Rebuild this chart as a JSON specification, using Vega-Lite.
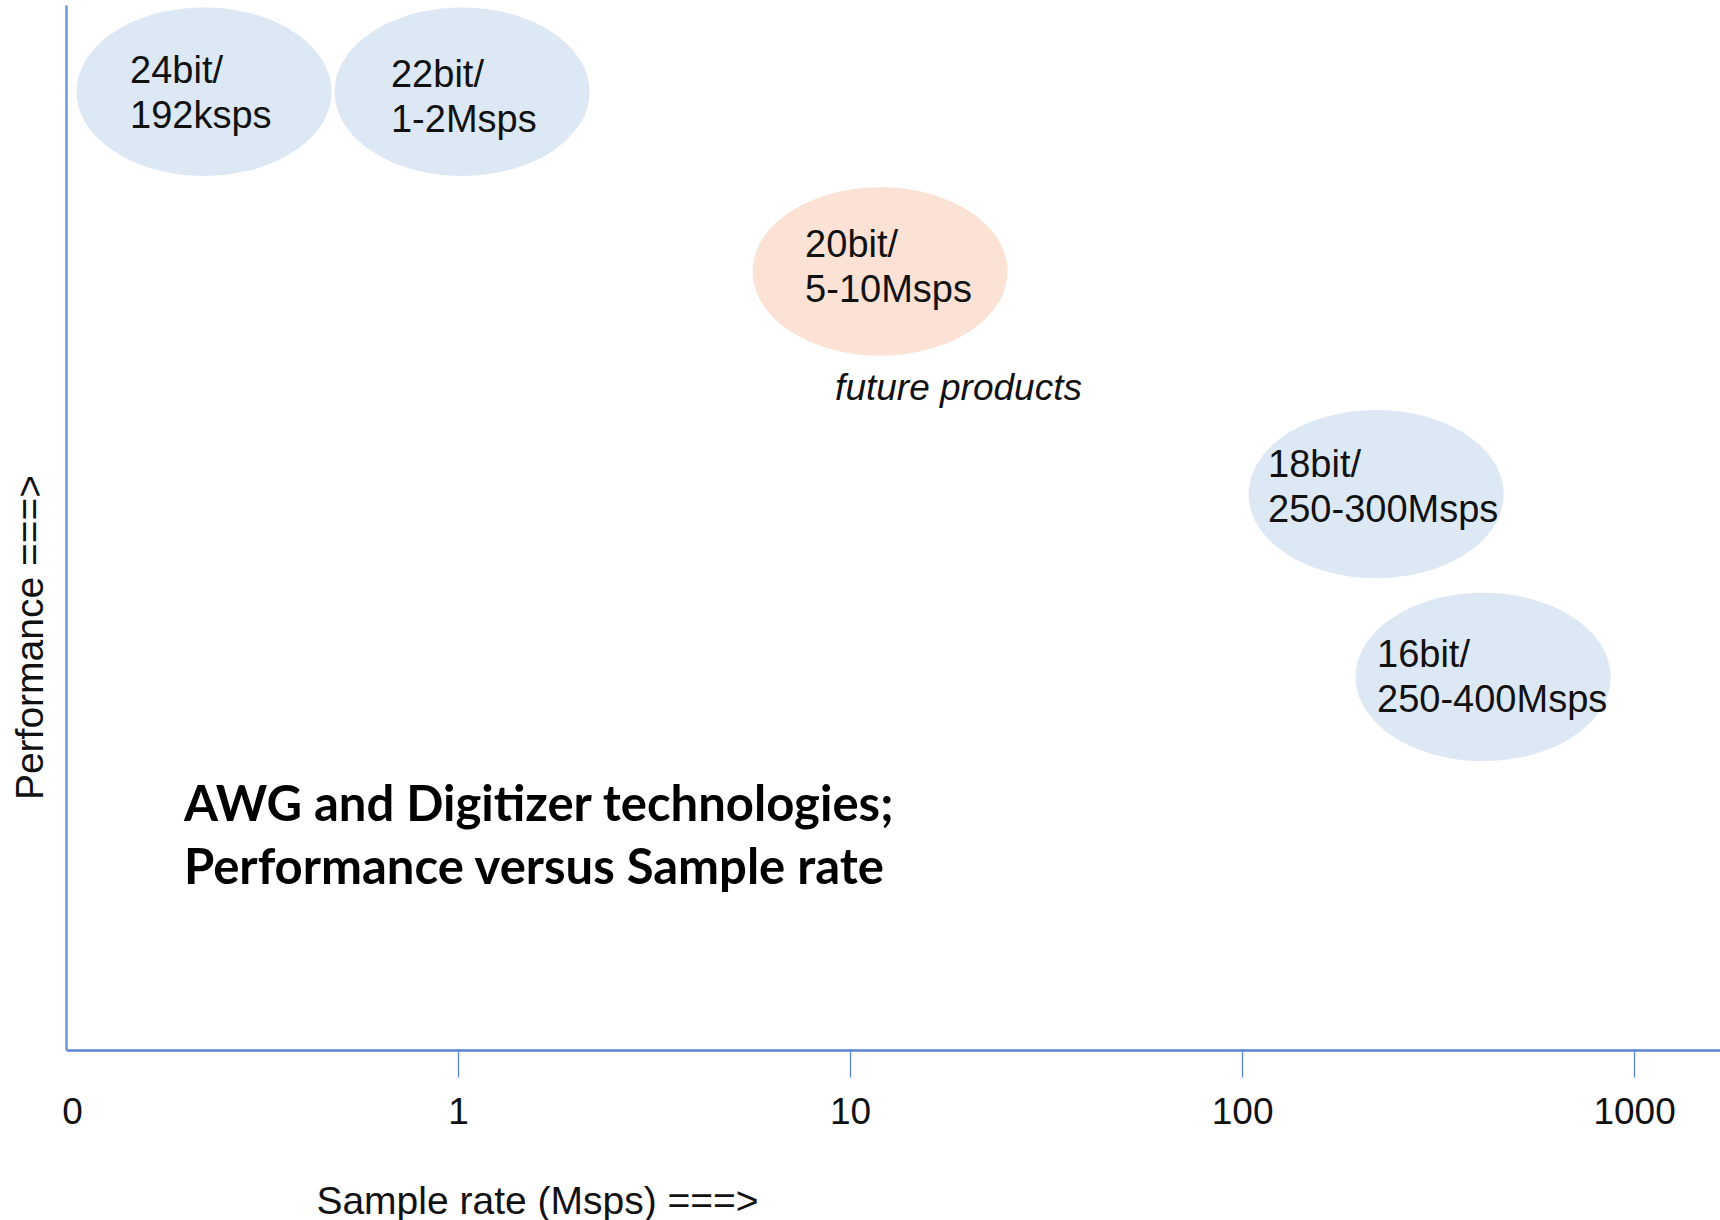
{
  "$schema": "https://vega.github.io/schema/vega-lite/v6.json",
  "width": 1654,
  "height": 1045,
  "autosize": {"type": "none"},
  "padding": {"left": 66, "top": 5, "right": 0, "bottom": 170},
  "background": "white",
  "config": {"view": {"stroke": null}, "axis": {"grid": false}},
  "datasets": {
    "bubbles": [
      {"rate": 0.225, "perf": 91.7, "group": "current"},
      {"rate": 1.024, "perf": 91.7, "group": "current"},
      {"rate": 11.93, "perf": 74.5, "group": "future"},
      {"rate": 219.7, "perf": 53.2, "group": "current"},
      {"rate": 412, "perf": 35.7, "group": "current"}
    ],
    "bubbleLabels": [
      {"rate": 0.1457, "perf": 92.54, "label": "24bit/\n192ksps"},
      {"rate": 0.6745, "perf": 92.15, "label": "22bit/\n1-2Msps"},
      {"rate": 7.68, "perf": 75.9, "label": "20bit/\n5-10Msps"},
      {"rate": 116.5, "perf": 54.83, "label": "18bit/\n250-300Msps"},
      {"rate": 220.9, "perf": 36.65, "label": "16bit/\n250-400Msps"}
    ],
    "notes": [
      {"rate": 9.16, "perf": 62.2, "kind": "future", "label": "future products"},
      {"rate": 0.2, "perf": 21.9, "kind": "title", "label": "AWG and Digitizer technologies;\nPerformance versus Sample rate"}
    ]
  },
  "encoding": {
    "x": {
      "field": "rate",
      "type": "quantitative",
      "scale": {"type": "log", "domain": [0.1, 1656], "nice": false},
      "axis": {
        "values": [0.1, 1, 10, 100, 1000],
        "labelExpr": "datum.value < 0.5 ? '0' : format(datum.value, 'd')",
        "title": "Sample rate (Msps) ===>",
        "titleFont": "Liberation Sans",
        "titleFontSize": 39,
        "titleFontWeight": "normal",
        "titleColor": "#111111",
        "titleX": 471,
        "titleY": 163,
        "titleAlign": "center",
        "titleBaseline": "alphabetic",
        "domainColor": "#5a85d6",
        "domainWidth": 2.5,
        "tickColor": "#5a85d6",
        "tickOpacity": {"condition": {"test": "datum.value < 0.5", "value": 0}, "value": 1},
        "tickSize": 27,
        "tickWidth": 1.3,
        "labelFont": "Liberation Sans",
        "labelFontSize": 37,
        "labelColor": "#111111",
        "labelPadding": 35,
        "labelBaseline": "middle",
        "labelOffset": {"condition": {"test": "datum.value < 0.5", "value": 6}, "value": 0},
        "labelFlush": false,
        "labelOverlap": false,
        "grid": false
      }
    },
    "y": {
      "field": "perf",
      "type": "quantitative",
      "scale": {"domain": [0, 100], "nice": false, "zero": false},
      "axis": {
        "ticks": false,
        "labels": false,
        "grid": false,
        "domainColor": "#6f95dc",
        "domainWidth": 2.5,
        "title": "Performance ===>",
        "titleFont": "Liberation Sans",
        "titleFontSize": 39,
        "titleFontWeight": "normal",
        "titleColor": "#111111",
        "titleAngle": -90,
        "titleX": -24,
        "titleY": 632,
        "titleAlign": "center",
        "titleBaseline": "alphabetic"
      }
    }
  },
  "layer": [
    {
      "data": {"name": "bubbles"},
      "mark": {
        "type": "point",
        "shape": "M -1 0 A 1 0.66 0 1 1 1 0 A 1 0.66 0 1 1 -1 0 Z",
        "size": 65025,
        "filled": true,
        "opacity": 1,
        "strokeWidth": 0
      },
      "encoding": {
        "color": {
          "field": "group",
          "type": "nominal",
          "scale": {"domain": ["current", "future"], "range": ["#dde8f5", "#fbe2d4"]},
          "legend": null
        }
      }
    },
    {
      "data": {"name": "bubbleLabels"},
      "mark": {
        "type": "text",
        "align": "left",
        "baseline": "alphabetic",
        "font": "Liberation Sans",
        "fontSize": 38,
        "lineHeight": 45,
        "lineBreak": "\n",
        "color": "#111111"
      },
      "encoding": {"text": {"field": "label"}}
    },
    {
      "data": {"name": "notes"},
      "transform": [{"filter": "datum.kind === 'future'"}],
      "mark": {
        "type": "text",
        "align": "left",
        "baseline": "alphabetic",
        "font": "Liberation Sans",
        "fontSize": 37,
        "fontStyle": "italic",
        "color": "#111111"
      },
      "encoding": {"text": {"field": "label"}}
    },
    {
      "data": {"name": "notes"},
      "transform": [{"filter": "datum.kind === 'title'"}],
      "mark": {
        "type": "text",
        "align": "left",
        "baseline": "alphabetic",
        "font": "Lato",
        "fontSize": 49,
        "fontWeight": "bold",
        "lineHeight": 63,
        "lineBreak": "\n",
        "color": "#000000"
      },
      "encoding": {"text": {"field": "label"}}
    }
  ]
}
